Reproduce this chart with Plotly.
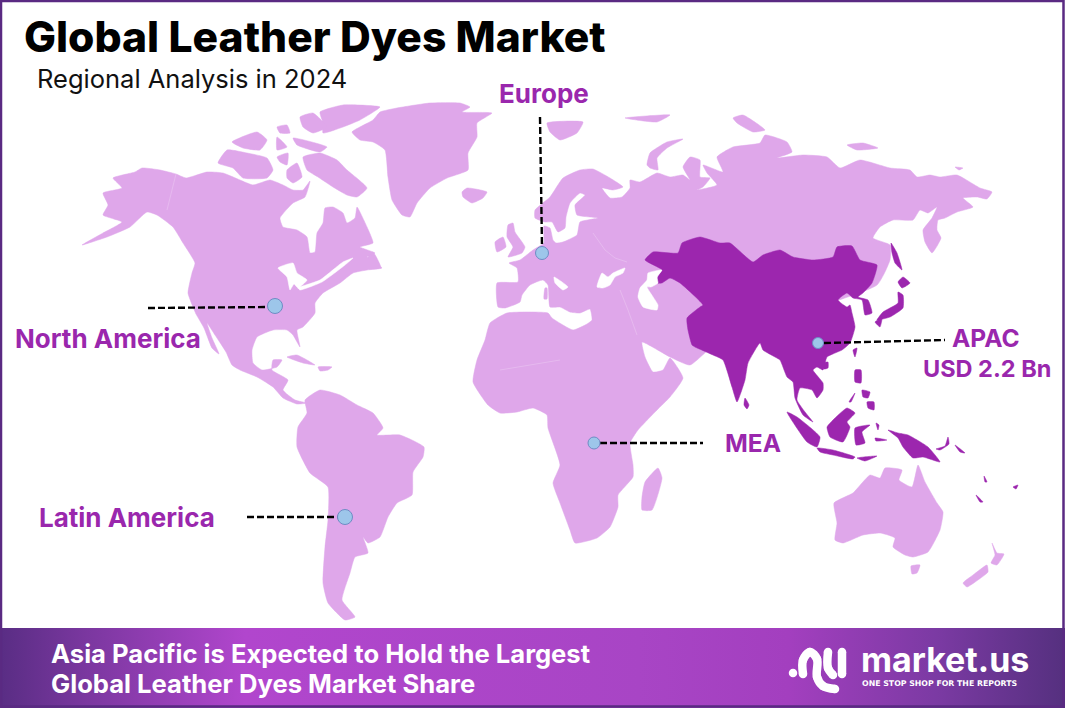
import plotly.graph_objects as go

# ---- text ----
TITLE = "Global Leather Dyes Market"
SUBTITLE = "Regional Analysis in 2024"
FOOTER_LINES = ["Asia Pacific is Expected to Hold the Largest", "Global Leather Dyes Market Share"]
BRAND = "market.us"
TAGLINE = "ONE STOP SHOP FOR THE REPORTS"

# ---- callouts ----
REGIONS = ["North America", "Europe", "APAC", "MEA", "Latin America"]
MARKER_X = [275, 542, 818, 594, 345]
MARKER_Y = [306, 253, 343, 443, 517]
MARKER_D = [15, 13, 11, 12, 15]
LEADER_X = [[148, 268], [540, 542], [824, 945], [600, 703], [247, 338]]
LEADER_Y = [[308, 307], [117, 247], [343, 340], [443, 443], [517, 517]]
LABEL_X = [108, 544, 986, 753, 127, 987]
LABEL_Y = [338, 93, 338, 443, 517, 368]
LABEL_T = ["North America", "Europe", "APAC", "MEA", "Latin America", "USD 2.2 Bn"]
LABEL_S = [26, 26, 24.5, 24.5, 26, 23.5]

# ---- outlines (picture coordinates) ----
NORTH_AMERICA = [(113,178),(135,172),(142,168),(160,170),(176,174),(186,178),(207,172),(223,173),(240,180),(253,185),(270,180),(283,185),(293,190),(303,190),(310,181),(305,197),(293,203),(280,218),(283,227),(297,230),(307,237),(310,253),(315,252),(317,233),(323,223),(325,208),(333,207),(343,213),(347,223),(355,218),(357,207),(367,227),(373,243),(360,247),(375,253),(367,257),(382,268),(367,270),(353,273),(340,283),(323,293),(315,303),(315,313),(303,327),(297,330),(300,347),(293,335),(287,330),(273,330),(257,337),(252,350),(253,363),(262,370),(277,367),(282,360),(273,360),(272,370),(288,380),(283,390),(295,400),(307,403),(297,404),(283,398),(273,387),(257,377),(240,370),(232,365),(226,352),(215,335),(207,323),(212,338),(219,354),(212,348),(204,328),(196,314),(193,307),(188,293),(192,273),(195,263),(183,243),(173,227),(157,215),(147,212),(130,227),(107,237),(82,245),(103,233),(122,222),(103,215),(108,205),(103,193),(122,188)]
BAFFIN = [(303,157),(320,153),(337,160),(347,170),(367,188),(357,197),(347,195),(333,187),(318,177),(307,170)]
VICTORIA = [(218,163),(227,150),(247,153),(267,158),(273,170),(267,178),(243,178),(233,168)]
BANKS = [(232,142),(257,132),(267,140),(260,150),(243,148)]
ELLESMERE = [(320,112),(343,105),(380,107),(360,120),(343,127),(323,133),(323,123)]
DEVON = [(300,117),(313,113),(327,127),(313,133),(303,127)]
ARCTIC_A = [(277,127),(287,125),(290,133),(280,133)]
ARCTIC_B = [(293,138),(327,147),(320,152),(297,145)]
ARCTIC_C = [(277,137),(287,147),(277,150)]
ARCTIC_D = [(277,157),(288,153),(287,165),(280,162)]
ARCTIC_E = [(287,170),(297,163),(302,177),(293,183),(287,178)]
NEWFOUNDLAND = [(366,260),(373,252),(381,268),(370,268)]
GREENLAND = [(352,132),(373,120),(380,112),(397,108),(430,103),(460,103),(470,107),(462,112),(492,113),(477,123),(477,137),(468,153),(468,170),(447,178),(430,188),(417,203),(410,217),(402,215),(392,200),(388,177),(385,150),(373,142),(360,140)]
ICELAND = [(462,192),(467,188),(487,192),(483,198),(472,203),(463,197)]
CUBA = [(287,357),(297,355),(315,365),(303,363)]
HISPANIOLA = [(318,367),(332,367),(328,370),(320,371)]
SOUTH_AMERICA = [(305,400),(320,390),(340,395),(357,405),(373,413),(383,428),(377,435),(400,435),(424,447),(423,457),(413,472),(412,495),(397,503),(388,517),(380,537),(368,543),(363,537),(368,553),(355,557),(350,573),(342,600),(355,617),(345,620),(328,603),(323,583),(325,547),(328,520),(328,487),(310,473),(297,447),(298,427),(307,413)]
OLD_WORLD = [(497,283),(518,282),(517,268),(509,263),(520,260),(533,250),(544,243),(544,238),(544,226),(550,228),(553,240),(556,243),(563,242),(577,235),(580,222),(598,218),(577,215),(575,205),(585,195),(580,193),(570,203),(566,217),(565,228),(558,232),(552,222),(545,222),(535,218),(535,210),(550,197),(563,178),(580,170),(593,169),(610,178),(623,187),(613,190),(602,188),(610,198),(622,197),(630,188),(630,180),(640,182),(657,173),(670,177),(683,175),(690,180),(683,167),(690,157),(700,160),(700,177),(710,178),(703,187),(697,190),(717,185),(707,173),(703,165),(723,172),(717,157),(733,147),(760,143),(765,135),(787,142),(792,152),(777,158),(803,155),(827,157),(840,168),(860,160),(890,168),(910,170),(917,177),(930,175),(940,177),(957,175),(980,188),(992,192),(987,199),(977,197),(963,198),(973,207),(957,212),(945,218),(938,220),(937,230),(941,238),(932,253),(925,242),(923,230),(932,218),(937,207),(928,213),(920,210),(913,220),(893,220),(880,227),(873,238),(890,245),(890,260),(877,285),(720,340),(690,365),(670,357),(642,342),(645,357),(653,372),(663,370),(670,358),(683,378),(670,397),(657,410),(638,430),(630,443),(633,465),(633,477),(618,495),(618,507),(610,527),(597,538),(575,543),(570,530),(560,503),(553,483),(560,465),(548,428),(547,415),(533,408),(517,412),(500,413),(488,405),(473,382),(477,360),(485,340),(490,323),(507,313),(548,313),(552,318),(573,330),(587,324),(592,320),(590,309),(580,313),(570,312),(560,307),(550,307),(548,285),(543,280),(530,285),(522,295),(520,302),(505,308),(498,307)]
BRITAIN = [(508,225),(513,223),(515,232),(525,247),(522,253),(508,257),(513,247),(507,237)]
IRELAND = [(495,242),(503,237),(506,247),(497,252)]
SARDINIA = [(545,288),(547,288),(547,299),(544,299)]
SVALBARD = [(547,123),(583,122),(577,133),(560,140),(550,132)]
FRANZ_JOSEF = [(625,118),(670,115),(657,122)]
SEVERNAYA = [(733,118),(743,115),(765,130),(753,132),(737,123)]
NOVAYA = [(647,165),(650,153),(667,142),(683,139),(667,148),(657,158),(658,170),(650,168)]
NEW_SIBERIAN = [(847,145),(863,143),(878,148),(857,150)]
WRANGEL = [(955,167),(963,168),(959,170)]
MADAGASCAR = [(658,468),(662,478),(652,510),(642,510),(642,497),(645,482)]
AUSTRALIA = [(834,503),(853,493),(862,483),(870,475),(880,478),(885,468),(902,470),(899,480),(912,487),(918,465),(925,482),(937,503),(943,512),(940,530),(928,552),(913,557),(905,555),(893,547),(895,538),(888,535),(880,533),(863,535),(843,543),(835,540),(837,523)]
TASMANIA = [(911,566),(920,565),(917,573),(912,574)]
NZ_NORTH = [(992,543),(997,553),(1004,554),(997,565),(991,563),(995,555)]
NZ_SOUTH = [(963,583),(973,575),(987,565),(988,572),(978,580),(967,587)]

LAKES = [(278,268),(293,263),(297,273),(307,280),(298,288),(294,284),(290,290),(287,277)]
BLACK_SEA = [(597,287),(602,273),(608,277),(613,273),(625,268),(623,273),(615,277),(610,285),(603,288)]
ADRIATIC = [(554,277),(568,287),(563,290),(555,283)]
ST_LAWRENCE = [(298,288),(320,280),(343,262),(353,258),(345,265),(322,282),(300,290)]
CASPIAN = [(647,280),(648,273),(662,270),(657,277),(658,283),(651,287),(647,287),(658,305),(657,310),(643,307),(638,297),(640,288)]

APAC_MAIN = [(645,260),(653,252),(678,253),(682,243),(700,237),(720,243),(730,243),(753,262),(763,255),(780,250),(793,257),(813,260),(833,257),(837,247),(852,246),(860,260),(877,265),(872,283),(863,293),(858,297),(868,300),(872,313),(865,315),(862,300),(853,298),(847,293),(838,300),(847,307),(850,305),(852,313),(855,327),(850,343),(842,350),(827,357),(823,370),(817,367),(813,370),(823,383),(823,390),(817,398),(812,390),(800,388),(797,400),(805,412),(813,422),(803,415),(795,398),(793,382),(787,377),(780,360),(775,357),(763,350),(760,343),(748,363),(745,380),(737,402),(732,387),(723,360),(713,355),(695,347),(692,345),(688,330),(687,318),(700,307),(703,305),(680,283),(670,278),(662,283),(657,283),(658,277),(662,270)]
SAKHALIN = [(891,243),(897,253),(902,270),(895,263),(892,253)]
HOKKAIDO = [(898,282),(903,277),(910,283),(902,288)]
HONSHU = [(898,292),(903,295),(903,308),(890,317),(877,320),(883,312),(898,303)]
KYUSHU = [(875,322),(882,318),(880,327)]
TAIWAN = [(853,350),(857,348),(855,357)]
HAINAN = [(823,363),(828,362),(828,368),(824,369)]
SRI_LANKA = [(745,398),(749,405),(747,409),(744,405)]
LUZON = [(855,370),(861,370),(861,383),(855,382)]
MINDANAO = [(867,402),(874,402),(874,410),(868,408)]
VISAYAS = [(862,390),(870,392),(868,398),(863,397)]
PALAWAN = [(849,402),(855,393),(851,402)]
SUMATRA = [(787,412),(797,417),(820,437),(817,447),(807,442)]
JAVA = [(817,448),(833,450),(855,457),(853,459),(833,455),(820,452)]
SUNDAS = [(857,458),(877,456),(865,461)]
BORNEO = [(827,427),(833,420),(847,408),(855,413),(847,422),(850,427),(843,442),(830,437)]
SULAWESI = [(855,428),(870,425),(862,432),(865,443),(856,445)]
NEW_GUINEA = [(888,430),(898,433),(908,435),(928,447),(940,462),(923,457),(913,458),(903,447),(898,438)]
MOLUCCAS = [(876,423),(879,425),(878,430)]
CERAM = [(875,438),(887,440),(876,441)]
NEW_BRITAIN = [(936,449),(945,446),(948,437),(949,444),(940,450)]
SOLOMON = [(955,445),(965,453),(960,452)]
VANUATU = [(984,476),(987,482),(985,482)]
NEW_CALEDONIA = [(976,495),(983,502),(980,502)]
FIJI = [(1013,487),(1018,485),(1016,489)]

BORDERS = [
    [(176,174),(167,210)],
    [(593,233),(605,250),(615,258),(627,262)],
    [(620,290),(628,310),(637,335)],
    [(500,370),(530,365),(560,360)],
]

# logo strokes
LOGO_DOT = [(793,673)]
LOGO_ARCH = [(803,674),(803,660),(810,652),(817,659),(817,677),(823,686),(835,689)]
LOGO_U = [(828,652),(828,668),(833,675)]
LOGO_BAR = [(842,652),(842,674)]

LIGHT = [NORTH_AMERICA,BAFFIN,VICTORIA,BANKS,ELLESMERE,DEVON,ARCTIC_A,ARCTIC_B,ARCTIC_C,ARCTIC_D,ARCTIC_E,NEWFOUNDLAND,GREENLAND,ICELAND,CUBA,HISPANIOLA,SOUTH_AMERICA,OLD_WORLD,BRITAIN,IRELAND,SARDINIA,SVALBARD,FRANZ_JOSEF,SEVERNAYA,NOVAYA,NEW_SIBERIAN,WRANGEL,MADAGASCAR,AUSTRALIA,TASMANIA,NZ_NORTH,NZ_SOUTH]
WATER = [LAKES,ST_LAWRENCE,BLACK_SEA,ADRIATIC]
DARK = [APAC_MAIN,SAKHALIN,HOKKAIDO,HONSHU,KYUSHU,TAIWAN,HAINAN,SRI_LANKA,LUZON,MINDANAO,VISAYAS,PALAWAN,SUMATRA,JAVA,SUNDAS,BORNEO,SULAWESI,NEW_GUINEA,MOLUCCAS,CERAM,NEW_BRITAIN,SOLOMON,VANUATU,NEW_CALEDONIA,FIJI]

C_LIGHT, C_DARK, C_LABEL, C_FRAME = "#dfa7ea", "#9c26ae", "#9a27ad", "#5a2a82"
FOOTER_STOPS = [[0,"#592d84"],[0.08,"#7a379f"],[0.23,"#b146cd"],[0.6,"#a845c5"],[0.74,"#a33fbf"],[0.88,"#7b3aa3"],[1,"#55307f"]]
FONT = "Inter"

def flat(polys, close=True):
    xs, ys = [], []
    for p in polys:
        q = list(p) + ([p[0]] if close else [])
        xs += [a for a, _ in q] + [None]
        ys += [b for _, b in q] + [None]
    return xs, ys

fig = go.Figure()

def area(polys, color):
    x, y = flat(polys)
    fig.add_trace(go.Scatter(x=x, y=y, mode="lines", fill="toself", fillcolor=color,
                             line=dict(color=color, width=0.5, shape="spline", smoothing=0.45),
                             hoverinfo="skip", showlegend=False))

area(LIGHT, C_LIGHT)
area(WATER, "#ffffff")
bx, by = flat(BORDERS, close=False)
fig.add_trace(go.Scatter(x=bx, y=by, mode="lines", line=dict(color="rgba(255,255,255,0.3)", width=0.7),
                         hoverinfo="skip", showlegend=False))
area(DARK, C_DARK)
area([CASPIAN], "#ffffff")

# footer band with a left-to-right gradient
fig.add_trace(go.Scatter(x=[0,1065,1065,0,0], y=[628,628,708,708,628], mode="none", fill="toself",
                         fillgradient=dict(type="horizontal", colorscale=FOOTER_STOPS),
                         hoverinfo="skip", showlegend=False))

# leaders and markers
for lx, ly in zip(LEADER_X, LEADER_Y):
    fig.add_trace(go.Scatter(x=lx, y=ly, mode="lines", line=dict(color="#000000", width=2.4, dash="7px,3px"),
                             hoverinfo="skip", showlegend=False))
fig.add_trace(go.Scatter(x=MARKER_X, y=MARKER_Y, mode="markers", text=REGIONS, hoverinfo="text", showlegend=False,
                         marker=dict(size=MARKER_D, color="#9dc6ea", opacity=1, line=dict(color="#6f8cc4", width=1))))

# logo
for stroke in (LOGO_DOT, LOGO_ARCH, LOGO_U, LOGO_BAR):
    fig.add_trace(go.Scatter(x=[a for a,_ in stroke], y=[b for _,b in stroke], mode="lines+markers",
                             line=dict(color="#ffffff", width=8.5, shape="spline"),
                             marker=dict(color="#ffffff", size=8.5), hoverinfo="skip", showlegend=False))

def label(x, y, t, size, color, anchor="left", weight=700, family=FONT):
    fig.add_annotation(x=x, y=y, text=t, showarrow=False, xanchor=anchor, yanchor="middle", xref="x", yref="y",
                       font=dict(family=family, size=size, color=color, weight=weight))

label(22, 36, TITLE, 42.6, "#000000", weight=800)
label(35, 78, SUBTITLE, 25.5, "#111111", weight=400)
for x, y, t, s in zip(LABEL_X, LABEL_Y, LABEL_T, LABEL_S):
    label(x, y, t, s, C_LABEL, "center")
label(49, 653, FOOTER_LINES[0], 25.6, "#ffffff")
label(49, 683, FOOTER_LINES[1], 25.6, "#ffffff")
label(859, 659, BRAND, 34, "#ffffff")
label(860, 683.5, TAGLINE, 7.8, "#ffffff", family="DejaVu Sans")

fig.update_layout(
    width=1065, height=708, margin=dict(l=0, r=0, t=0, b=0),
    paper_bgcolor="#ffffff", plot_bgcolor="#ffffff", showlegend=False,
    xaxis=dict(range=[0,1065], visible=False, fixedrange=True),
    yaxis=dict(range=[708,0], visible=False, fixedrange=True),
    shapes=[dict(type="rect", xref="x", yref="y", x0=1, y0=1, x1=1063.5, y1=706.5,
                 line=dict(color=C_FRAME, width=2.5), fillcolor="rgba(0,0,0,0)", layer="above")],
)
fig.write_html("out.html", config=dict(displayModeBar=False),
               post_script="document.body.style.margin='0';document.body.style.overflow='hidden';")
